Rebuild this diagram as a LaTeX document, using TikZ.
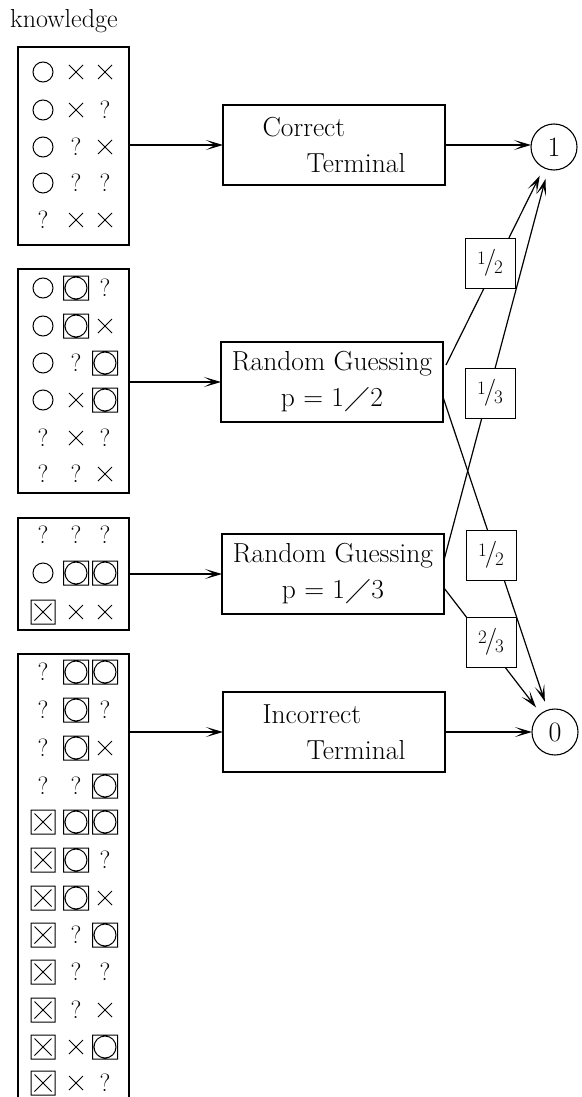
\documentclass[tikz,border=0pt]{standalone}
\usepackage{fix-cm}
\usepackage{amssymb}
\usepackage{graphicx}
\usetikzlibrary{arrows.meta}

% stacked fraction used in the probability labels
\newcommand\fr[2]{\raisebox{5.5pt}{\fontsize{19}{19}\selectfont #1}\kern-2pt{\fontsize{27}{27}\selectfont /}\kern-2pt\raisebox{-4pt}{\fontsize{19}{19}\selectfont #2}}

% knowledge-state glyphs: O circle, B boxed circle, X cross, K boxed cross, Q question mark
\newcommand\glyphO[2]{\draw[symline,shift={(#1)}] (0,0) circle[radius=10pt];}
\newcommand\glyphB[2]{\draw[symline,shift={(#1)}] (-12.5pt,-12pt) rectangle (12.5pt,12pt) (0,0) circle[radius=11pt];}
\newcommand\glyphX[2]{\draw[symline,shift={(#1)}] (-7pt,-7pt) -- (7pt,7pt) (-7pt,7pt) -- (7pt,-7pt);}
\newcommand\glyphK[2]{\draw[symline,shift={(#1)}] (-12pt,-12pt) rectangle (12pt,12pt) (-8.5pt,-8.5pt) -- (8.5pt,8.5pt) (-8.5pt,8.5pt) -- (8.5pt,-8.5pt);}
\newcommand\glyphQ[2]{\node[qmark] (#2) at (#1) {?};}
% one row of three glyphs: id, y, three glyph codes
\newcommand\symrow[5]{%
  \csname glyph#3\endcsname{43,#2}{#1a}%
  \csname glyph#4\endcsname{76,#2}{#1b}%
  \csname glyph#5\endcsname{105,#2}{#1c}}

\tikzset{
  symline/.style={line width=1pt},
  qmark/.style={inner sep=0pt, font=\fontsize{25}{25}\selectfont},
  kbox/.style={draw, line width=1.1pt, inner sep=0pt, outer sep=0pt, minimum width=111pt},
  proc/.style={draw, line width=1.1pt, minimum width=222pt, minimum height=80pt,
    inner sep=0pt, outer sep=0pt, font=\fontsize{27.5}{36}\selectfont},
  result/.style={draw, circle, line width=1.1pt, minimum size=46pt, inner sep=0pt,
    outer sep=0pt, font=\fontsize{28}{28}\selectfont},
  prob/.style={draw, fill=white, line width=1pt, minimum size=50pt, inner sep=0pt},
  arr/.style={line width=1.2pt, -{Stealth[length=17pt,width=10pt,inset=9pt]}},
}

\begin{document}
\begin{tikzpicture}[x=1pt,y=-1pt]
\useasboundingbox (0,0) rectangle (581,1097);
\fill[white] (0,0) rectangle (581,1097);

\node[anchor=base west, inner sep=0pt, font=\fontsize{26}{26}\selectfont] (title) at (10,28) {knowledge};

% knowledge-state boxes
\node[kbox, minimum height=198pt] (k1) at (73.5,146) {};
\node[kbox, minimum height=224pt] (k2) at (73.5,381) {};
\node[kbox, minimum height=112pt] (k3) at (73.5,574) {};
\node[kbox, minimum height=470pt] (k4) at (73.5,889) {};

\symrow{a1}{72}{O}{X}{X}
\symrow{a2}{110}{O}{X}{Q}
\symrow{a3}{147}{O}{Q}{X}
\symrow{a4}{183}{O}{Q}{Q}
\symrow{a5}{220}{Q}{X}{X}

\symrow{b1}{288}{O}{B}{Q}
\symrow{b2}{326}{O}{B}{X}
\symrow{b3}{363}{O}{Q}{B}
\symrow{b4}{400}{O}{X}{B}
\symrow{b5}{438}{Q}{X}{Q}
\symrow{b6}{474}{Q}{Q}{X}

\symrow{c1}{535}{Q}{Q}{Q}
\symrow{c2}{573}{O}{B}{B}
\symrow{c3}{612}{K}{X}{X}

\symrow{d1}{672}{Q}{B}{B}
\symrow{d2}{710}{Q}{B}{Q}
\symrow{d3}{748}{Q}{B}{X}
\symrow{d4}{786}{Q}{Q}{B}
\symrow{d5}{822}{K}{B}{B}
\symrow{d6}{860}{K}{B}{Q}
\symrow{d7}{898}{K}{B}{X}
\symrow{d8}{935}{K}{Q}{B}
\symrow{d9}{972}{K}{Q}{Q}
\symrow{d10}{1010}{K}{Q}{X}
\symrow{d11}{1047}{K}{X}{B}
\symrow{d12}{1083}{K}{X}{Q}

% response processes
\node[proc, align=left] (cor) at (334,145) {Correct\\\hspace*{44pt}Terminal};
\node[proc, align=center] (rg2) at (332,382) {Random Guessing\\p = 1\kern1pt$\diagup$\kern1pt2};
\node[proc, align=center] (rg3) at (333,574) {Random Guessing\\p = 1\kern1pt$\diagup$\kern1pt3};
\node[proc, align=left] (inc) at (334,732) {Incorrect\\\hspace*{44pt}Terminal};

% outcomes
\node[result] (one) at (554,147) {1};
\node[result] (zero) at (555,732) {0};

\draw[arr] (k1.east |- cor.west) -- (cor.west);
\draw[arr] (k2.east |- rg2.west) -- (rg2.west);
\draw[arr] (k3.east |- rg3.west) -- (rg3.west);
\draw[arr] (k4.east |- inc.west) -- (inc.west);
\draw[arr] (cor.east) -- (cor.east -| one.west);
\draw[arr] (inc.east) -- (zero.west);

\draw[arr, shorten >=9pt] ([xshift=3pt,yshift=17pt]rg2.east) -- (one);
\draw[arr, shorten >=10pt] ([yshift=14pt]rg3.east) -- (one);
\draw[arr, shorten >=9pt] ([yshift=-15pt]rg2.east) -- (zero);
\draw[arr, shorten >=8pt] ([yshift=-14pt]rg3.east) -- (zero);

% branch probabilities
\node[prob] (p1) at (490,263) {\fr12};
\node[prob] (p2) at (490,393) {\fr13};
\node[prob] (p3) at (491,555) {\fr12};
\node[prob] (p4) at (491,642) {\fr23};
\end{tikzpicture}
\end{document}
